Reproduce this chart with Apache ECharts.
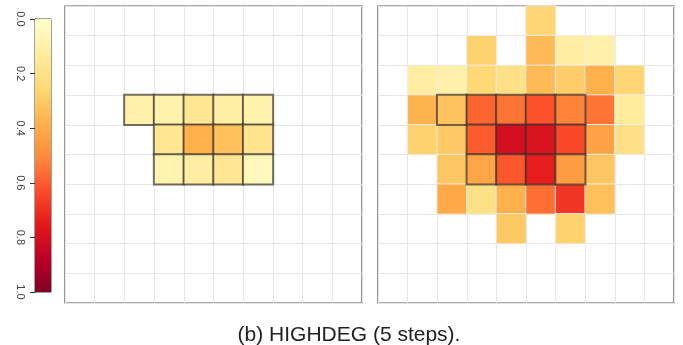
<!DOCTYPE html>
<html>
<head>
<meta charset="utf-8">
<script src="https://cdn.jsdelivr.net/npm/echarts@6/dist/echarts.min.js"></script>
<style>
html,body{margin:0;padding:0;background:#fff;}
#chart{width:683px;height:345px;}
</style>
</head>
<body>
<div id="chart"></div>
<script>
// ---- data ----
var gridCols = ['0','1','2','3','4','5','6','7','8','9'];
var gridRows = ['0','1','2','3','4','5','6','7','8','9'];
var colorbarTicks = [0, 0.2, 0.4, 0.6, 0.8, 1.0];
var paletteYlOrRd = ['#FFFFCC','#FFEDA0','#FED976','#FEB24C','#FD8D3C','#FC4E2A','#E31A1C','#BD0026','#800026'];
var caption = '(b) HIGHDEG (5 steps).';

// [col, row, value]
var leftValues = [
  [2,3,0.10],[3,3,0.09],[4,3,0.16],[5,3,0.11],[6,3,0.09],
  [3,4,0.16],[4,4,0.38],[5,4,0.33],[6,4,0.18],
  [3,5,0.08],[4,5,0.12],[5,5,0.16],[6,5,0.05]
];
var rightValues = [
  [5,0,0.26],
  [3,1,0.27],[5,1,0.35],[6,1,0.12],[7,1,0.10],
  [1,2,0.12],[2,2,0.10],[3,2,0.25],[4,2,0.20],[5,2,0.35],[6,2,0.29],[7,2,0.38],[8,2,0.26],
  [1,3,0.37],[2,3,0.32],[3,3,0.58],[4,3,0.55],[5,3,0.62],[6,3,0.52],[7,3,0.55],[8,3,0.14],
  [1,4,0.27],[2,4,0.30],[3,4,0.60],[4,4,0.80],[5,4,0.78],[6,4,0.64],[7,4,0.43],[8,4,0.20],
  [2,5,0.31],[3,5,0.42],[4,5,0.61],[5,5,0.74],[6,5,0.45],[7,5,0.31],
  [2,6,0.41],[3,6,0.20],[4,6,0.38],[5,6,0.56],[6,6,0.68],[7,6,0.33],
  [4,7,0.30],[6,7,0.27]
];
// cells outlined (the first-step region)
var outlinedCells = [
  [2,3],[3,3],[4,3],[5,3],[6,3],
  [3,4],[4,4],[5,4],[6,4],
  [3,5],[4,5],[5,5],[6,5]
];

// ---- build ----
function isOutlined(c, r) {
  return outlinedCells.some(function(o){ return o[0] === c && o[1] === r; });
}
function splitData(vals) {
  var plain = [], outl = [];
  vals.forEach(function(v){
    if (isOutlined(v[0], v[1])) outl.push(v); else plain.push(v);
  });
  return {plain: plain, outl: outl};
}
var L = splitData(leftValues), R = splitData(rightValues);

var chart = echarts.init(document.getElementById('chart'), null, {renderer:'canvas'});

function panelX(idx) {
  return {
    type:'category', gridIndex: idx, data: gridCols,
    axisLine:{show:false}, axisTick:{show:false}, axisLabel:{show:false},
    splitLine:{show:true, lineStyle:{color:'#e6e6e6', width:1}}
  };
}
function panelY(idx) {
  return {
    type:'category', gridIndex: idx, data: gridRows, inverse:true,
    axisLine:{show:false}, axisTick:{show:false}, axisLabel:{show:false},
    splitLine:{show:true, lineStyle:{color:'#e6e6e6', width:1}}
  };
}
var plainStyle = {borderColor:'rgba(238,238,238,0.9)', borderWidth:1};
var outlStyle = {borderColor:'rgba(55,50,45,0.7)', borderWidth:2};

var gradStops = paletteYlOrRd.map(function(c, i){ return {offset: i/(paletteYlOrRd.length-1), color: c}; });

var option = {
  backgroundColor:'#fff',
  animation:false,
  title:{
    text: caption, left: 344, textAlign:'center', top: 320,
    textStyle:{fontFamily:'Liberation Sans', fontSize:21, fontWeight:'normal', color:'#222'}
  },
  visualMap:{
    show:false, type:'continuous', min:0, max:1, seriesIndex:[0,1,2,3],
    inRange:{color: paletteYlOrRd}
  },
  grid:[
    {left:65, top:6, width:297, height:297, show:true, borderColor:'#555', borderWidth:1.2, backgroundColor:'#fff'},
    {left:378, top:6, width:296, height:297, show:true, borderColor:'#555', borderWidth:1.2, backgroundColor:'#fff'},
    {left:35, top:19, width:16, height:273, show:true, borderColor:'#444', borderWidth:1, backgroundColor:'transparent'}
  ],
  xAxis:[
    panelX(0), panelX(1),
    {type:'category', gridIndex:2, data:['cb'], show:false}
  ],
  yAxis:[
    panelY(0), panelY(1),
    {type:'value', gridIndex:2, min:colorbarTicks[0], max:colorbarTicks[colorbarTicks.length-1], interval:0.2, inverse:true,
     axisLine:{show:true, lineStyle:{color:'#333'}},
     axisTick:{show:true, length:5, lineStyle:{color:'#333'}},
     axisLabel:{show:true, rotate:-90, margin:9, fontSize:11, color:'#444', fontFamily:'Liberation Sans',
       formatter:function(v){ return v.toFixed(1); }},
     splitLine:{show:false}}
  ],
  series:[
    {type:'heatmap', xAxisIndex:0, yAxisIndex:0, data:L.plain, itemStyle:plainStyle, z:2},
    {type:'heatmap', xAxisIndex:0, yAxisIndex:0, data:L.outl, itemStyle:outlStyle, z:3},
    {type:'heatmap', xAxisIndex:1, yAxisIndex:1, data:R.plain, itemStyle:plainStyle, z:2},
    {type:'heatmap', xAxisIndex:1, yAxisIndex:1, data:R.outl, itemStyle:outlStyle, z:3},
    {type:'bar', xAxisIndex:2, yAxisIndex:2, data:[colorbarTicks[colorbarTicks.length-1]], barWidth:'100%',
     itemStyle:{color:new echarts.graphic.LinearGradient(0,0,0,1,gradStops)}, silent:true}
  ]
};
chart.setOption(option);
</script>
</body>
</html>
